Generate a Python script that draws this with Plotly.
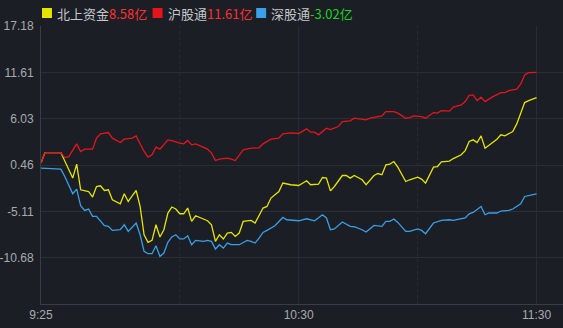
import plotly.graph_objects as go

DAY = "2024-01-02 "

# 沪股通 (red)
sh_times = ["09:25","09:26","09:30","09:31","09:32","09:34","09:35","09:36","09:38","09:39","09:40","09:42","09:43","09:45","09:46","09:48","09:49","09:51","09:52","09:53","09:54","09:55","09:57","09:58","10:00","10:01","10:02","10:03","10:04","10:06","10:07","10:08","10:09","10:10","10:12","10:13","10:14","10:16","10:18","10:20","10:21","10:23","10:25","10:26","10:28","10:30","10:32","10:33","10:34","10:35","10:37","10:38","10:40","10:41","10:43","10:44","10:46","10:47","10:48","10:50","10:51","10:52","10:54","10:55","10:57","10:58","10:59","11:01","11:02","11:04","11:05","11:06","11:08","11:09","11:11","11:12","11:13","11:14","11:15","11:16","11:17","11:19","11:21","11:22","11:23","11:25","11:26","11:27","11:28","11:30"]
sh_vals = [0.70,1.96,1.96,1.36,1.48,3.01,2.09,2.37,2.37,3.69,4.21,4.37,3.69,3.17,3.57,3.69,3.97,2.09,1.41,1.69,2.61,2.37,3.49,3.41,3.09,3.01,3.41,2.89,3.01,2.61,2.37,1.89,1.00,1.17,1.29,1.17,1.00,2.29,2.49,2.53,3.01,3.57,3.69,4.21,4.33,4.25,4.81,4.41,4.41,4.09,4.89,4.73,5.09,5.69,5.77,6.09,6.01,5.89,6.09,6.25,6.37,6.89,6.89,6.70,6.09,6.17,6.37,6.29,6.09,6.77,6.70,7.01,6.94,7.42,7.69,8.09,8.83,8.89,8.21,8.62,8.09,8.69,9.17,9.17,9.41,9.58,10.21,11.30,11.57,11.61]

# 北上资金 (yellow)
nb_times = ["09:25","09:26","09:30","09:33","09:34","09:35","09:37","09:38","09:39","09:40","09:41","09:42","09:43","09:45","09:46","09:47","09:48","09:49","09:50","09:51","09:52","09:53","09:54","09:55","09:56","09:57","09:58","09:59","10:00","10:01","10:02","10:03","10:04","10:06","10:07","10:08","10:09","10:10","10:11","10:12","10:13","10:14","10:15","10:16","10:18","10:19","10:20","10:21","10:22","10:23","10:25","10:26","10:28","10:30","10:32","10:33","10:35","10:36","10:37","10:38","10:39","10:41","10:42","10:43","10:44","10:46","10:47","10:49","10:50","10:51","10:52","10:53","10:54","10:55","10:57","10:58","11:00","11:01","11:02","11:04","11:05","11:06","11:08","11:09","11:11","11:12","11:13","11:14","11:15","11:16","11:17","11:19","11:20","11:21","11:22","11:24","11:25","11:26","11:27","11:28","11:30"]
nb_vals = [0.70,1.96,1.96,-1.11,0.57,-2.52,-2.72,-3.39,-2.12,-2.03,-2.60,-2.52,-3.72,-4.20,-3.00,-3.92,-3.24,-2.60,-4.52,-7.92,-8.84,-8.60,-6.72,-8.20,-7.32,-5.31,-4.59,-4.83,-5.40,-5.40,-4.71,-6.32,-5.64,-6.03,-6.24,-6.72,-8.72,-7.92,-8.44,-7.72,-7.64,-8.12,-7.72,-6.32,-6.20,-6.51,-5.64,-4.71,-4.52,-3.51,-2.72,-1.71,-1.91,-2.00,-1.43,-1.91,-1.83,-1.04,-1.11,-2.64,-2.12,-0.80,-0.80,-1.11,-0.80,-1.31,-1.91,-0.80,-0.56,-0.71,0.49,0.57,0.88,0.21,-1.52,-1.31,-0.99,-1.23,-1.71,0.21,0.28,0.85,0.93,1.24,1.69,2.20,3.29,3.49,3.17,3.97,2.49,3.17,3.57,4.09,3.97,4.49,5.41,6.70,7.97,8.21,8.58]

# 深股通 (blue)
sz_times = ["09:25","09:30","09:31","09:33","09:34","09:35","09:36","09:37","09:38","09:39","09:41","09:42","09:43","09:45","09:46","09:47","09:49","09:50","09:51","09:52","09:53","09:54","09:55","09:56","09:57","09:58","09:59","10:00","10:01","10:02","10:03","10:04","10:06","10:07","10:08","10:09","10:10","10:11","10:12","10:13","10:15","10:17","10:18","10:19","10:20","10:21","10:22","10:24","10:26","10:27","10:30","10:32","10:34","10:36","10:37","10:38","10:39","10:41","10:43","10:44","10:46","10:47","10:49","10:51","10:52","10:53","10:54","10:55","10:57","10:58","11:00","11:01","11:02","11:04","11:06","11:08","11:09","11:11","11:12","11:13","11:14","11:16","11:17","11:18","11:20","11:21","11:23","11:24","11:26","11:27","11:28","11:30"]
sz_vals = [0.09,-0.03,-0.92,-2.99,-2.43,-4.44,-5.00,-4.83,-5.72,-5.72,-6.84,-6.92,-7.40,-7.32,-6.72,-7.52,-6.51,-7.92,-9.92,-10.20,-10.20,-9.24,-10.52,-10.12,-8.84,-8.19,-7.92,-8.43,-8.43,-8.04,-9.12,-8.60,-8.72,-8.60,-8.72,-9.64,-9.12,-9.52,-8.92,-9.12,-9.12,-8.60,-8.72,-8.92,-8.32,-7.64,-7.40,-6.84,-5.84,-6.12,-6.24,-6.00,-6.24,-5.52,-5.91,-7.32,-7.23,-6.39,-6.92,-6.96,-7.32,-7.59,-6.80,-6.92,-6.32,-6.32,-6.03,-6.44,-7.52,-7.52,-7.23,-7.40,-7.80,-6.51,-6.20,-6.12,-6.20,-6.03,-5.91,-5.40,-5.24,-4.52,-5.52,-5.31,-5.31,-5.07,-5.00,-4.83,-4.20,-3.32,-3.24,-3.02]

y_ticks = [17.18, 11.61, 6.03, 0.46, -5.11, -10.68]
x_tick_labels = ["9:25", "10:30", "11:30"]
x_tick_times = ["09:25", "10:30", "11:30"]

legend_names = ["北上资金", "沪股通", "深股通"]
legend_values = ["8.58亿", "11.61亿", "-3.02亿"]

BG = "#1b1e25"
GRID = "#2b2e35"
AXIS = "#3a3d45"
TXT = "#a9abaf"
C_YEL = "#e5e500"
C_RED = "#e8141c"
C_BLU = "#3a9fe6"

fig = go.Figure()
for times, vals, col in [(nb_times, nb_vals, C_YEL), (sz_times, sz_vals, C_BLU), (sh_times, sh_vals, C_RED)]:
    fig.add_trace(go.Scatter(x=[DAY + t for t in times], y=vals, mode="lines",
                             line=dict(color=col, width=1.3), showlegend=False, hoverinfo="skip"))

W, H = 563, 328
L, R, T, B = 39, 0, 26, 24
pw, ph = W - L - R, H - T - B

# vertical grid lines
for t, dash in [("10:00", "dot"), ("10:30", "solid"), ("11:00", "dot"), ("11:30", "solid")]:
    fig.add_shape(type="line", xref="x", yref="paper", x0=DAY + t, x1=DAY + t, y0=0, y1=1,
                  line=dict(color=GRID, width=1, dash=dash), layer="below")

# legend
leg_x = [40, 151, 255]
leg_cols = [C_YEL, C_RED, C_BLU]
val_cols = ["#ff3030", "#ff3030", "#1fd11f"]
for px, col, name, val, vc in zip(leg_x, leg_cols, legend_names, legend_values, val_cols):
    fig.add_shape(type="rect", xref="paper", yref="paper",
                  x0=(px - L) / pw, x1=(px + 10 - L) / pw,
                  y0=1 + (T - 18) / ph, y1=1 + (T - 8) / ph,
                  fillcolor=col, line=dict(width=0))
    fig.add_annotation(xref="paper", yref="paper", x=(px + 13 - L) / pw, y=1 + (T - 13) / ph,
                       xanchor="left", yanchor="middle", showarrow=False,
                       text=f"{name}<span style='color:{vc}'>{val}</span>",
                       font=dict(size=13, color="#c4c6ca", family="Noto Sans CJK SC, Liberation Sans"))

fig.update_layout(
    width=W, height=H, margin=dict(l=L, r=R, t=T, b=B),
    paper_bgcolor=BG, plot_bgcolor=BG,
    font=dict(family="Liberation Sans, Arial, sans-serif", color=TXT, size=12),
    xaxis=dict(type="date", range=[DAY + "09:25", DAY + "11:36:40"],
               tickvals=[DAY + t for t in x_tick_times], ticktext=x_tick_labels,
               showgrid=False, zeroline=False, showline=True, linecolor=AXIS, linewidth=1,
               ticks="", tickfont=dict(size=12, color=TXT)),
    yaxis=dict(range=[-16.25, 17.18], tickvals=y_ticks, ticktext=[f"{v:.2f}" for v in y_ticks],
               showgrid=True, gridcolor=GRID, gridwidth=1, zeroline=False,
               showline=True, linecolor=AXIS, linewidth=1, ticks="",
               tickfont=dict(size=12, color=TXT), ticklabelstandoff=4),
)

fig.write_html("out.html")
